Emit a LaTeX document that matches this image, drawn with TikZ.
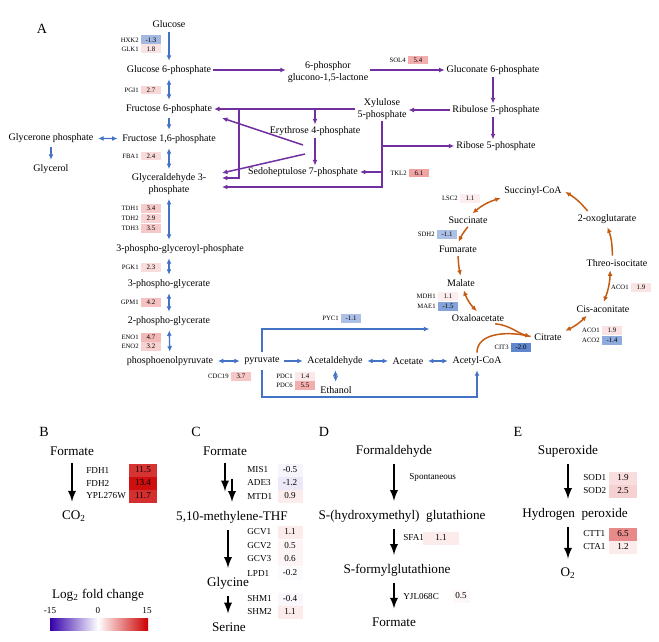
\documentclass[tikz,border=0pt]{standalone}
\usepackage{fontspec}
\setmainfont{Liberation Serif}
\usetikzlibrary{arrows}
\usetikzlibrary{arrows.meta}
\usetikzlibrary{calc}
\usetikzlibrary{positioning}

\definecolor{glyblue}{RGB}{68,114,196}
\definecolor{pppurple}{RGB}{112,48,160}
\definecolor{tcaorange}{RGB}{197,90,17}
\definecolor{hot}{RGB}{220,40,40}
\definecolor{cool}{RGB}{68,114,196}
\definecolor{lfcred}{RGB}{204,0,0}
\definecolor{lfcviolet}{RGB}{51,0,170}

\tikzset{
  met/.style={font=\fontsize{5.7}{6.4}\selectfont, inner sep=1pt, align=center},
  gene/.style={font=\fontsize{3.8}{4}\selectfont, inner sep=0pt, anchor=east},
  val/.style={font=\fontsize{3.9}{4}\selectfont, inner sep=0pt, minimum width=0.4cm, minimum height=0.18cm},
  metb/.style={font=\fontsize{7.5}{8.5}\selectfont, inner sep=1pt},
  geneb/.style={font=\fontsize{5.2}{6}\selectfont, inner sep=0pt, anchor=west},
  valb/.style={font=\fontsize{5.2}{6}\selectfont, inner sep=0pt, minimum height=0.26cm},
  panel/.style={font=\fontsize{8}{9}\selectfont},
  small tip/.style={>={Latex[length=3.1pt,width=2.8pt]}},
  gly/.style={small tip, draw=glyblue, line width=0.75pt, shorten >=1.5pt, shorten <=1.5pt},
  ppp/.style={small tip, draw=pppurple, line width=0.85pt},
  tca/.style={small tip, draw=tcaorange, line width=0.85pt, shorten >=1pt, shorten <=1pt},
  rxn/.style={draw=black, line width=1.1pt, ->, shorten <=3pt, shorten >=4pt},
}

\begin{document}
\begin{tikzpicture}[x=0.02cm, y=-0.02cm, >=latex]
  \useasboundingbox (0,0) rectangle (659,642);

  % A: glycolysis
  \node[panel] (lblA) at (42,29) {A};
  \node[met] (glc) at (169,24) {Glucose};
  \node[met] (g6p) at (169,70) {Glucose 6-phosphate};
  \node[met] (f6p) at (169,109) {Fructose 6-phosphate};
  \node[met] (fbp) at (169,139) {Fructose 1,6-phosphate};
  \node[met] (dhap) at (51,138) {Glycerone phosphate};
  \node[met] (glyol) at (51,169) {Glycerol};
  \node[met] (gap) at (169,184) {Glyceraldehyde 3-\\phosphate};
  \node[met] (bpg) at (180,249) {3-phospho-glyceroyl-phosphate};
  \node[met] (pg3) at (169,284) {3-phospho-glycerate};
  \node[met] (pg2) at (169,321) {2-phospho-glycerate};
  \node[met] (pep) at (170,361) {phosphoenolpyruvate};
  \node[met] (pyr) at (262,361) {pyruvate};
  \node[met] (acald) at (335,361) {Acetaldehyde};
  \node[met] (etoh) at (336,390) {Ethanol};
  \node[met] (ac) at (408,361) {Acetate};
  \node[met] (accoa) at (477,361) {Acetyl-CoA};

  % A: pentose phosphate
  \node[met] (pgl) at (328,72) {6-phosphor\\glucono-1,5-lactone};
  \node[met] (gnt) at (493,70) {Gluconate 6-phosphate};
  \node[met] (ru5p) at (496,110) {Ribulose 5-phosphate};
  \node[met] (r5p) at (496,146) {Ribose 5-phosphate};
  \node[met] (x5p) at (382,109) {Xylulose\\5-phosphate};
  \node[met] (e4p) at (315,131) {Erythrose 4-phosphate};
  \node[met] (s7p) at (303,172) {Sedoheptulose 7-phosphate};
  \coordinate (jA) at (239,109);
  \coordinate (tkx1) at (303,145);
  \coordinate (tkx2) at (305,154);
  \coordinate (f6pin) at (222,118);
  \coordinate (gapa) at (222,173);
  \coordinate (gapb) at (222,178);
  \coordinate (gapc) at (222,187);

  % A: TCA cycle
  \node[met] (cit) at (548,337) {Citrate};
  \node[met] (cis) at (603,309) {Cis-aconitate};
  \node[met] (icit) at (617,263) {Threo-isocitate};
  \node[met] (akg) at (607,219) {2-oxoglutarate};
  \node[met] (succoa) at (533,191) {Succinyl-CoA};
  \node[met] (succ) at (468,220) {Succinate};
  \node[met] (fum) at (458,249) {Fumarate};
  \node[met] (mal) at (461,283) {Malate};
  \node[met] (oaa) at (478,318) {Oxaloacetate};
  \coordinate (pycend) at (432,329);
  \coordinate (low) at (300,397);

  \foreach \n/\bx/\y/\g/\v/\c in {
    hxk2/141/40/HXK2/-1.3/cool!50!white, glk1/141/49/GLK1/1.8/hot!13!white,
    pgi1/141/90/PGI1/2.7/hot!19!white, fba1/141/156/FBA1/2.4/hot!17!white,
    tdh1/141/208/TDH1/3.4/hot!24!white, tdh2/141/218/TDH2/2.9/hot!20!white,
    tdh3/141/228/TDH3/3.5/hot!25!white, pgk1/141/267/PGK1/2.3/hot!16!white,
    gpm1/141/302/GPM1/4.2/hot!29!white, eno1/141/337/ENO1/4.7/hot!33!white,
    eno2/141/346/ENO2/3.2/hot!22!white, cdc19/231/376/CDC19/3.7/hot!26!white,
    pdc1/295/376/PDC1/1.4/hot!10!white, pdc6/295/385/PDC6/5.5/hot!38!white,
    pyc1/341/318/PYC1/-1.1/cool!45!white, sol4/408/60/SOL4/5.4/hot!38!white,
    tkl2/409/173/TKL2/6.1/hot!43!white, lsc2/460/198/LSC2/1.1/hot!8!white,
    sdh2/437/234/SDH2/-1.1/cool!45!white, mdh1/438/296/MDH1/1.1/hot!8!white,
    mae1/438/306/MAE1/-1.5/cool!65!white, cit3/511/347/CIT3/-2.0/cool!85!white,
    aco1a/631/287/ACO1/1.9/hot!13!white, aco1b/602/330/ACO1/1.9/hot!13!white,
    aco2/602/340/ACO2/-1.4/cool!60!white} {
    \node[gene] (g-\n) at (\bx-2,\y) {\g};
    \node[val, fill=\c] (v-\n) at (\bx+10,\y) {\v};
  }

  \draw[gly,->] (glc) -- (g6p);
  \draw[gly,<->] (g6p) -- (f6p);
  \draw[gly,->] (f6p) -- (fbp);
  \draw[gly,<->] (fbp) -- (gap);
  \draw[gly,<->] (dhap) -- (fbp);
  \draw[gly,->] (dhap) -- (glyol);
  \draw[gly,<->] (gap.south) -- (gap.south |- bpg.north);
  \draw[gly,<->] (pg3.north |- bpg.south) -- (pg3.north);
  \draw[gly,<->] (pg3) -- (pg2);
  \draw[gly,<->] (pg2) -- (pep);
  \draw[gly,<->] (pep) -- (pyr);
  \draw[gly,->] (pyr) -- (acald);
  \draw[gly,<->] (acald) -- (ac);
  \draw[gly,<->] (ac) -- (accoa);
  \draw[gly,<->] (acald) -- (etoh);
  \draw[gly,->] (pyr.north) |- (pycend);
  \draw[gly,->] (pyr.south) |- (low) -| (accoa.south);

  \draw[ppp,->] (g6p.east) -- (g6p.east -| pgl.west);
  \draw[ppp,->] (pgl.east |- gnt.west) -- (gnt.west);
  \draw[ppp,->] (gnt.south) -- (gnt.south |- ru5p.north);
  \draw[ppp,->] (gnt.south |- ru5p.south) -- (gnt.south |- r5p.north);
  \draw[ppp,->] (ru5p.west) -- (ru5p.west -| x5p.east);
  \draw[ppp,->] (x5p) -- (f6p);
  \draw[ppp,->] (jA) |- (gapb);
  \draw[ppp,->] (e4p.north |- x5p) -- (e4p.north);
  \draw[ppp,->] (e4p.south) -- (e4p.south |- s7p.north);
  \draw[ppp,->] (tkx1) -- (f6pin);
  \draw[ppp,->] (tkx2) -- (gapa);
  \draw[ppp,->] (x5p.south) |- (gapc);
  \draw[ppp,->] (x5p.south |- r5p.west) -- (r5p.west);
  \draw[ppp,->] (x5p.south |- s7p.east) -- (s7p.east);

  \draw[tca,->] (akg.160) to[bend right=10] (succoa.east);
  \draw[tca,<->] (succoa.south west) to[bend right=12] (succ.60);
  \draw[tca,->] (succ.-80) to[bend right=8] (fum.north);
  \draw[tca,->] (fum.south) to[bend right=5] (mal.north);
  \draw[tca,<->] (mal.-70) to[bend right=12] (oaa.north);
  \draw[tca,->] (oaa.-20) to[out=-5,in=165] (cit.west);
  \draw[tca] (accoa.north) to[out=90,in=165] (cit.west);
  \draw[tca,<->] (cit.north east) to[bend right=10] (cis.-160);
  \draw[tca,<->] (cis.north) to[bend right=10] (icit.-140);
  \draw[tca,->] (icit.130) to[bend right=10] (akg.south);

  % B to E
  \node[panel] (lblB) at (44,432) {B};
  \node[panel] (lblC) at (196,432) {C};
  \node[panel] (lblD) at (324,432) {D};
  \node[panel] (lblE) at (518,432) {E};

  \node[metb] (fmtB) at (72,451) {Formate};
  \node[metb] (co2) at (74,516) {CO\textsubscript{2}};
  \node[metb] (fmtC) at (225,451) {Formate};
  \node[metb] (mthf) at (232,517) {5,10-methylene-THF};
  \node[metb] (glyc) at (228,583) {Glycine};
  \node[metb] (ser) at (229,627) {Serine};
  \node[metb] (fald) at (394,451) {Formaldehyde};
  \node[metb] (hmgsh) at (402,516) {S-(hydroxymethyl)~ glutathione};
  \node[metb] (fgsh) at (397,570) {S-formylglutathione};
  \node[metb] (fmtD) at (394,622) {Formate};
  \node[metb] (sox) at (568,451) {Superoxide};
  \node[metb] (hp) at (575,514) {Hydrogen~ peroxide};
  \node[metb] (o2) at (568,573) {O\textsubscript{2}};
  \node[geneb] (sp) at (409,477) {Spontaneous};

  \foreach \n/\gx/\bx/\w/\y/\g/\v/\c in {
    fdh1/86/143/0.56cm/470/FDH1/11.5/lfcred!80!white,
    fdh2/86/143/0.56cm/483/FDH2/13.4/lfcred!94!white,
    ypl/86/143/0.56cm/496/YPL276W/11.7/lfcred!82!white,
    mis1/247/290/0.5cm/470/MIS1/-0.5/lfcviolet!4!white,
    ade3/247/290/0.5cm/483/ADE3/-1.2/lfcviolet!9!white,
    mtd1/247/290/0.5cm/496/MTD1/0.9/lfcred!7!white,
    gcv1/247/290/0.5cm/532/GCV1/1.1/lfcred!8!white,
    gcv2/247/290/0.5cm/546/GCV2/0.5/lfcred!4!white,
    gcv3/247/290/0.5cm/559/GCV3/0.6/lfcred!4!white,
    lpd1/247/290/0.5cm/573/LPD1/-0.2/lfcviolet!2!white,
    shm1/247/290/0.5cm/599/SHM1/-0.4/lfcviolet!3!white,
    shm2/247/290/0.5cm/612/SHM2/1.1/lfcred!8!white,
    sfa1/403/441/0.72cm/538/SFA1/1.1/lfcred!8!white,
    yjl/403/461/0.34cm/596/YJL068C/0.5/lfcred!3!white,
    sod1/583/623/0.56cm/478/SOD1/1.9/lfcred!13!white,
    sod2/583/623/0.56cm/491/SOD2/2.5/lfcred!18!white,
    ctt1/583/623/0.56cm/534/CTT1/6.5/lfcred!46!white,
    cta1/583/623/0.56cm/547/CTA1/1.2/lfcred!8!white} {
    \node[geneb] (g-\n) at (\gx,\y) {\g};
    \node[valb, minimum width=\w, fill=\c] (v-\n) at (\bx,\y) {\v};
  }

  \draw[rxn] (fmtB.south) -- (fmtB.south |- co2.north);
  \draw[rxn, shorten >=10pt] (fmtC.south) -- (fmtC.south |- mthf.north);
  \draw[rxn, shorten <=12pt] (mthf.north |- fmtC.south) -- (mthf.north);
  \draw[rxn] (glyc.north |- mthf.south) -- (glyc.north);
  \draw[rxn] (glyc.south) -- (glyc.south |- ser.north);
  \draw[rxn] (fald.south) -- (fald.south |- hmgsh.north);
  \draw[rxn] (fald.south |- hmgsh.south) -- (fald.south |- fgsh.north);
  \draw[rxn] (fald.south |- fgsh.south) -- (fald.south |- fmtD.north);
  \draw[rxn] (sox.south) -- (sox.south |- hp.north);
  \draw[rxn] (sox.south |- hp.south) -- (sox.south |- o2.north);

  % colour scale
  \node[metb] (cbt) at (98,595) {Log\textsubscript{2} fold change};
  \node[geneb, anchor=center] (cbl) at (50,611) {-15};
  \node[geneb, anchor=center] (cbm) at (98,611) {0};
  \node[geneb, anchor=center] (cbr) at (147,611) {15};
  \shade[left color=lfcviolet, right color=white] (50,618) rectangle (98,630);
  \shade[left color=white, right color=lfcred] (98,618) rectangle (148,630);
\end{tikzpicture}
\end{document}
